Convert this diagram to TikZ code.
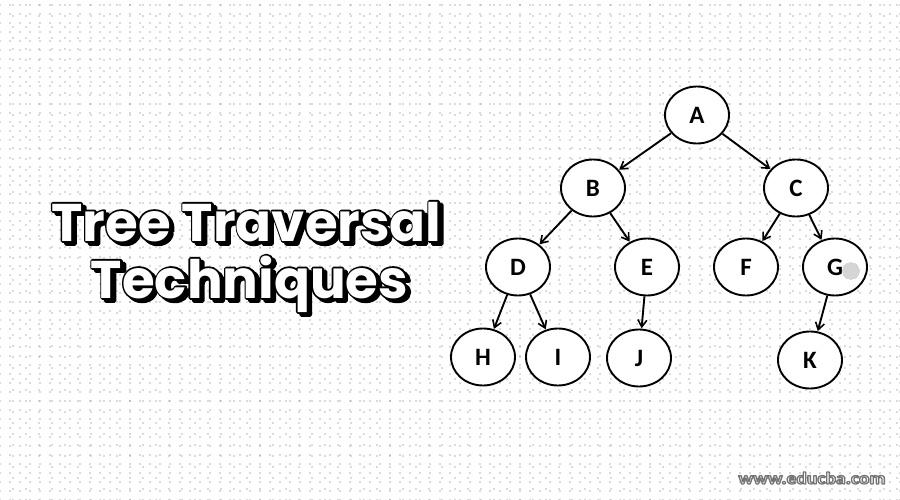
\documentclass[tikz,border=0pt]{standalone}
\usepackage{fontspec}
\setmainfont{Carlito}
\newfontfamily\titlefont{Poppins}
\usetikzlibrary{shapes.geometric,arrows.meta,patterns}
\newcommand\outlinetext[3]{% #1 line width, #2 stroke gray (0..1), #3 text
  \special{pdf:literal direct #1 w #2 G 2 Tr 1 j}#3\special{pdf:literal direct 0 Tr}}
\pgfdeclarepatternformonly{sparsedots}{\pgfqpoint{-1pt}{-1pt}}{\pgfqpoint{10pt}{9pt}}{\pgfqpoint{10pt}{9pt}}{%
  \pgfpathcircle{\pgfqpoint{0pt}{0pt}}{0.55pt}%
  \pgfusepath{fill}}
\pgfdeclarepatternformonly{otherdots}{\pgfqpoint{-1pt}{-1pt}}{\pgfqpoint{13pt}{11pt}}{\pgfqpoint{13pt}{11pt}}{%
  \pgfpathcircle{\pgfqpoint{0pt}{0pt}}{0.55pt}%
  \pgfusepath{fill}}
\pgfdeclarepatternformonly{densedots}{\pgfqpoint{-1pt}{-1pt}}{\pgfqpoint{2pt}{2pt}}{\pgfqpoint{2pt}{2pt}}{%
  \pgfpathcircle{\pgfqpoint{0pt}{0pt}}{0.6pt}%
  \pgfusepath{fill}}
\tikzset{
  treenode/.style={ellipse, draw=black, line width=1.9pt, fill=white,
    minimum width=64pt, minimum height=57pt, inner sep=0pt,
    font=\fontsize{25}{25}\selectfont\bfseries},
  edge/.style={-{Straight Barb[length=7pt,width=9pt,line width=1.6pt]}, line width=1.9pt, shorten >=0.3pt},
  titletext/.style={anchor=base, inner sep=0pt, font=\titlefont\fontsize{53}{53}\selectfont\bfseries},
}
\begin{document}
\begin{tikzpicture}[x=1pt,y=-1pt]
\useasboundingbox (0,0) rectangle (900,500);
\fill[white] (0,0) rectangle (900,500);
\fill[pattern=sparsedots, pattern color=black!60] (0,0) rectangle (900,500);
\fill[pattern=otherdots, pattern color=black!60] (3,5) rectangle (900,500);
% title: shadow, black outline, white letters
\node[titletext, text=black] (t1s) at (250,244) {\outlinetext{3.6}{0}{Tree Traversal}};
\node[titletext, text=black] (t1o) at (246.5,241) {\outlinetext{3.6}{0}{Tree Traversal}};
\node[titletext, text=white] (t1) at (246.5,241) {Tree Traversal};
\node[titletext, text=black] (t2s) at (253,301) {\outlinetext{3.6}{0}{Techniques}};
\node[titletext, text=black] (t2o) at (249.5,298) {\outlinetext{3.6}{0}{Techniques}};
\node[titletext, text=white] (t2) at (249.5,298) {Techniques};
% tree
\node[treenode] (A) at (697,115) {A};
\node[treenode] (B) at (593,188) {B};
\node[treenode] (C) at (796,188) {C};
\node[treenode] (D) at (518,267) {D};
\node[treenode] (E) at (647,267) {E};
\node[treenode] (F) at (746,267) {F};
\node[treenode] (G) at (835,267) {G};
\node[treenode] (H) at (483,357) {H};
\node[treenode] (I) at (558,357) {I};
\node[treenode] (J) at (639,358) {J};
\node[treenode] (K) at (810,360) {K};
\fill[pattern=densedots, pattern color=black!70] (851,271) circle (9);
\draw[edge] (A) -- (B);
\draw[edge] (A) -- (C);
\draw[edge] (B) -- (D);
\draw[edge] (B) -- (E);
\draw[edge] (C) -- (F);
\draw[edge] (C) -- (G);
\draw[edge] (D) -- (H);
\draw[edge] (D) -- (I);
\draw[edge] (E) -- (J);
\draw[edge] (G) -- (K);
% watermark
\node[inner sep=0pt, xscale=1.15, text=white, font=\fontsize{17}{17}\selectfont\bfseries] (wm) at (812,478) {\outlinetext{1.2}{0.45}{www.educba.com}};
\end{tikzpicture}
\end{document}
